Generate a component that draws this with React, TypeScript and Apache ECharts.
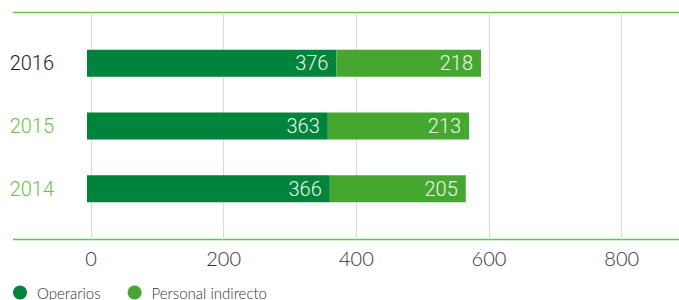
import React, { useEffect, useRef } from "react";
import * as echarts from "echarts";

const categories = ["2014", "2015", "2016"];
const operarios = [366, 363, 376];
const personalIndirecto = [205, 213, 218];
const xTicks = [0, 200, 400, 600, 800];
const seriesNames = ["Operarios", "Personal indirecto"];

const DARK = "#00833a";
const LIGHT = "#45a72f";
const LINE = "#6abf4a";
const THIN = "Roboto, Lato, sans-serif";
const SANS = "Lato, 'Open Sans', sans-serif";

export default function App() {
  const ref = useRef<HTMLDivElement>(null);
  useEffect(() => {
    if (!ref.current) return;
    const chart = echarts.init(ref.current, undefined, { renderer: "svg" });
    const valueLabel = {
      show: true,
      position: "insideRight",
      distance: 8,
      color: "#eef7ec",
      fontFamily: THIN,
      fontWeight: 300,
      fontSize: 20,
    };
    chart.setOption({
      animation: false,
      backgroundColor: "#ffffff",
      grid: [
        { left: 91, right: 57.3, top: 12.5, bottom: 60.5 },
        { left: 87, right: 61.3, top: 32, bottom: 80 },
      ],
      xAxis: [
        {
          gridIndex: 0,
          type: "value",
          min: xTicks[0],
          max: xTicks[xTicks.length - 1],
          interval: 200,
          axisLine: { show: false },
          axisTick: { show: false },
          splitLine: { show: true, lineStyle: { color: "#dadada", width: 1 } },
          axisLabel: { color: "#333333", fontFamily: SANS, fontWeight: 300, fontSize: 20, margin: 8 },
        },
        {
          gridIndex: 1,
          type: "value",
          min: xTicks[0],
          max: xTicks[xTicks.length - 1],
          show: false,
        },
      ],
      yAxis: [
        {
          gridIndex: 0,
          type: "category",
          data: categories,
          show: false,
        },
        {
          gridIndex: 1,
          type: "category",
          data: categories,
          axisLine: { show: false },
          axisTick: { show: false },
          splitLine: { show: false },
          axisLabel: {
            margin: 33,
            fontFamily: THIN,
            fontWeight: 300,
            fontSize: 20,
            color: (v: string) => (v === "2016" ? "#222222" : LINE),
          },
        },
      ],
      legend: {
        left: 13,
        top: 285,
        padding: 0,
        icon: "circle",
        itemWidth: 14,
        itemHeight: 14,
        itemGap: 27,
        data: seriesNames,
        textStyle: { fontFamily: SANS, fontWeight: 300, fontSize: 15, color: "#333333", padding: [0, 0, 0, 5] },
      },
      graphic: [
        {
          type: "line",
          shape: { x1: 13, y1: 12.5, x2: 679, y2: 12.5 },
          style: { stroke: LINE, lineWidth: 1.5 },
        },
        {
          type: "line",
          shape: { x1: 13, y1: 239.5, x2: 679, y2: 239.5 },
          style: { stroke: LINE, lineWidth: 1.5 },
        },
      ],
      series: [
        {
          name: seriesNames[0],
          type: "bar",
          stack: "total",
          xAxisIndex: 1,
          yAxisIndex: 1,
          barWidth: 27,
          data: operarios,
          itemStyle: { color: DARK },
          label: valueLabel,
        },
        {
          name: seriesNames[1],
          type: "bar",
          stack: "total",
          xAxisIndex: 1,
          yAxisIndex: 1,
          barWidth: 27,
          data: personalIndirecto,
          itemStyle: { color: LIGHT },
          label: valueLabel,
        },
      ],
    });
    return () => chart.dispose();
  }, []);
  return (
    <div
      ref={ref}
      style={{ width: 679, height: 300, position: "absolute", left: 0, top: 0 }}
    />
  );
}
